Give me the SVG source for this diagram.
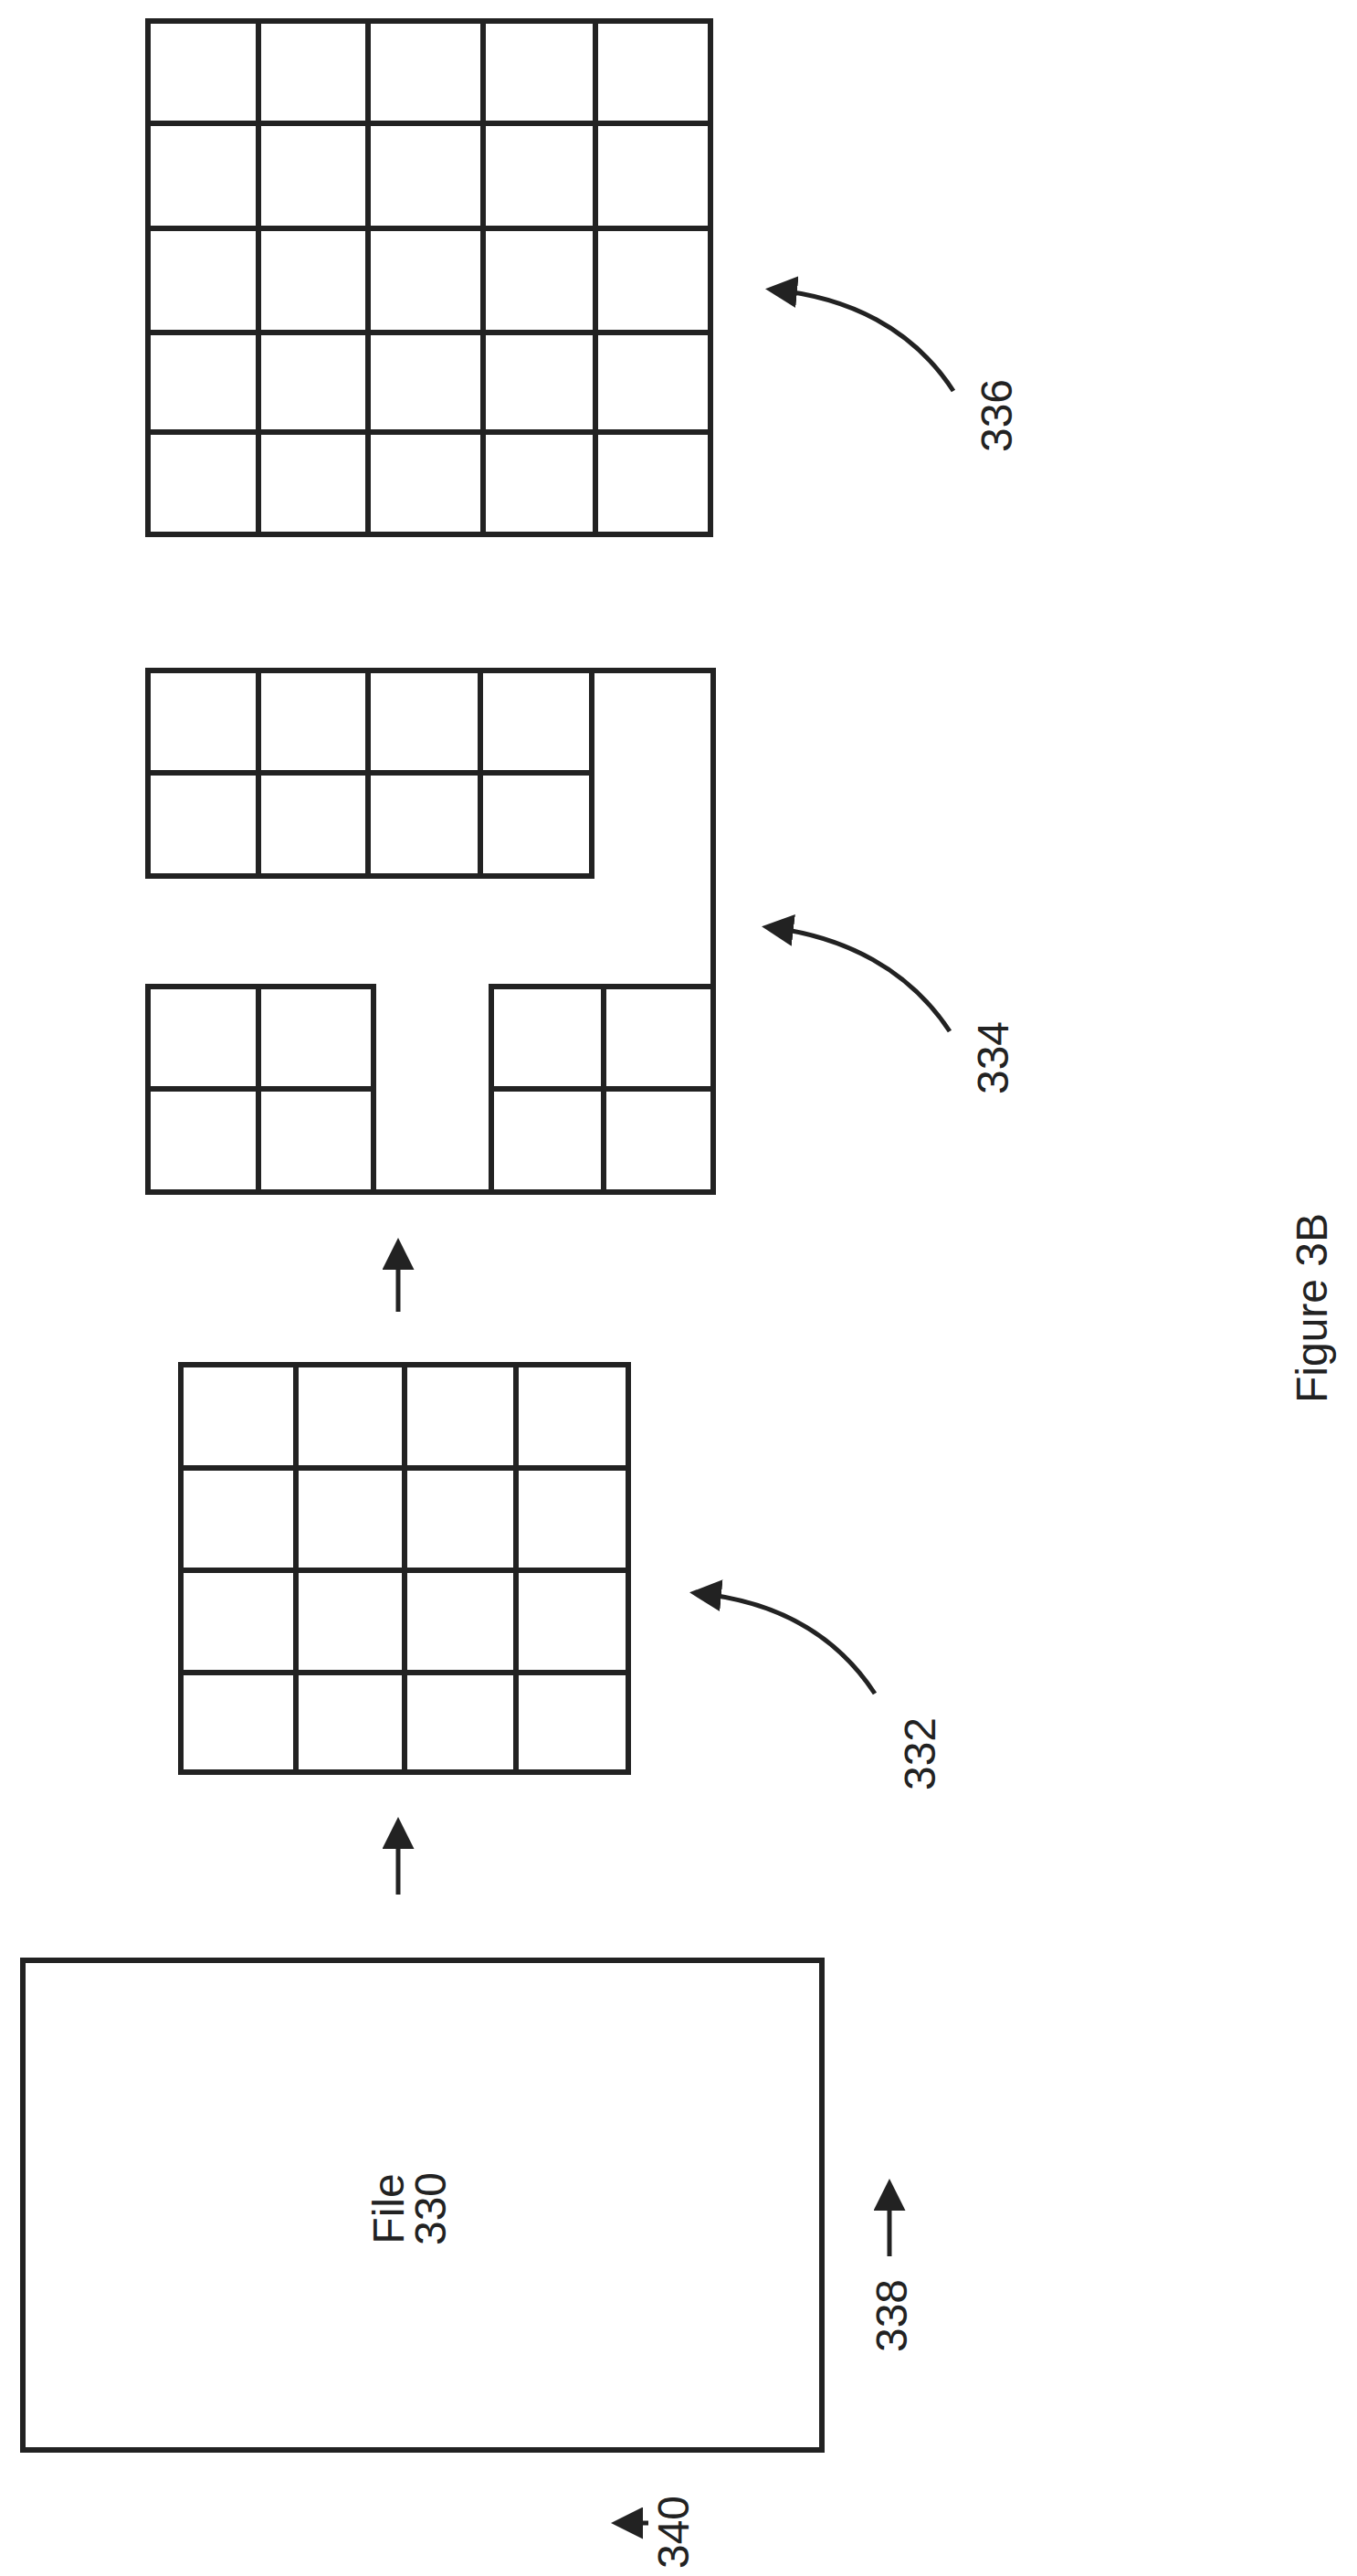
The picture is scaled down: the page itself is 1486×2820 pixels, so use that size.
<svg xmlns="http://www.w3.org/2000/svg" width="1486" height="2820" viewBox="0 0 1486 2820">
<defs>
<style>
.g{fill:none;stroke:#222;stroke-width:6;stroke-linecap:square}
.c{fill:none;stroke:#222;stroke-width:5}
.t{font-family:"Liberation Sans",Arial,sans-serif;fill:#222;font-size:48px;text-anchor:middle}
</style>
<marker id="ah" viewBox="0 0 10 10" refX="8" refY="5" markerWidth="7" markerHeight="7" orient="auto" markerUnits="strokeWidth"><path d="M0,0 L10,5 L0,10 z" fill="#222"/></marker>
</defs>
<rect width="1486" height="2820" fill="#fff"/>
<g id="grid336" class="g">
<rect x="162" y="23" width="616" height="562"/>
<path d="M283,23V585M403,23V585M529,23V585M652,23V585M162,135H778M162,250H778M162,364H778M162,473H778"/>
</g>
<g id="grid334" class="g">
<path d="M162,734H781V1080M162,734V959M162,1080V1305H409M538,1305H781V1080"/>
<rect x="162" y="734" width="486" height="225"/>
<path d="M283,734V959M403,734V959M526,734V959M162,846H648"/>
<rect x="162" y="1080" width="247" height="225"/>
<path d="M283,1080V1305M162,1192H409"/>
<rect x="538" y="1080" width="243" height="225"/>
<path d="M661,1080V1305M538,1192H781"/>
<path d="M409,1305H538"/>
</g>
<g id="grid332" class="g">
<rect x="198" y="1494" width="490" height="446"/>
<path d="M324,1494V1940M443,1494V1940M565,1494V1940M198,1607H688M198,1719H688M198,1831H688"/>
</g>
<g id="file330">
<rect class="g" x="25" y="2146" width="875" height="536"/>
<text class="t" font-size="40" transform="translate(450,2418) rotate(-90)"><tspan x="0" y="-8">File</tspan><tspan x="0" y="38">330</tspan></text>
</g>
<g id="connectors" class="c">
<path d="M1044,428 C1000,360 930,325 845,317" marker-end="url(#ah)"/>
<path d="M1040,1129 C996,1062 926,1025 841,1015" marker-end="url(#ah)"/>
<path d="M958,1854 C914,1787 846,1752 762,1744" marker-end="url(#ah)"/>
<path d="M436,1436V1362" marker-end="url(#ah)"/>
<path d="M436,2074V1996" marker-end="url(#ah)"/>
<path d="M974,2470V2392" marker-end="url(#ah)"/>
<path d="M710,2762H676" marker-end="url(#ah)"/>
</g>
<g id="labels">
<text class="t" transform="translate(108,455) rotate(-90)" display="none"></text>
<text class="t" transform="translate(1108,455) rotate(-90)">336</text>
<text class="t" transform="translate(1104,1158) rotate(-90)">334</text>
<text class="t" transform="translate(1024,1920) rotate(-90)">332</text>
<text class="t" transform="translate(993,2535) rotate(-90)">338</text>
<text class="t" transform="translate(754,2772) rotate(-90)">340</text>
<text class="t" font-size="58" transform="translate(1453,1432) rotate(-90)">Figure 3B</text>
</g>
</svg>
